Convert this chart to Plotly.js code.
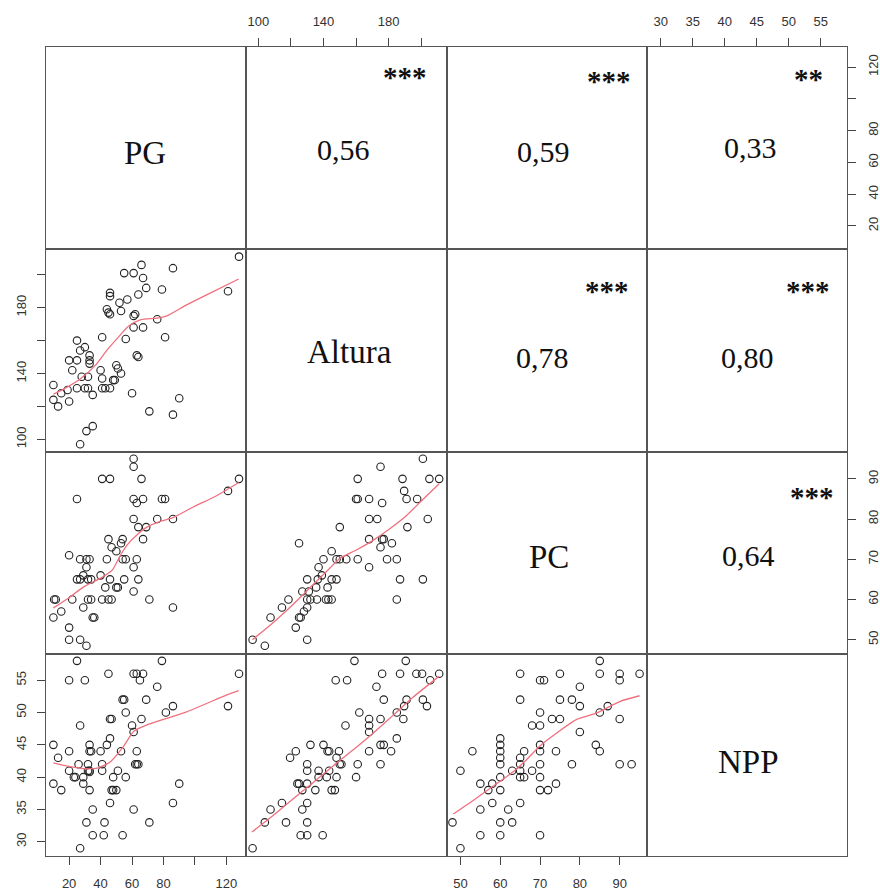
<!DOCTYPE html>
<html><head><meta charset="utf-8">
<script src="https://cdn.plot.ly/plotly-3.0.1.min.js"></script>
<style>html,body{margin:0;padding:0;background:#fff;}#chart{width:880px;height:893px;}</style>
</head><body><div id="chart"></div>
<script>
// ---------- data ----------
const varNames = ["PG", "Altura", "PC", "NPP"];
const corrText = ["0,56", "0,59", "0,33", "0,78", "0,80", "0,64"];
const corrStars = ["***", "***", "**", "***", "***", "***"];

// PG (x) vs Altura (y)
const pgAlt_PG = [128,121,66,86,55,61,67,69,79,46,46,64,57,52,44,53,45,46,62,61,76,61,67,41,56,81,25,30,27,33,33,33,20,25,22,63,64,50,51,40,53,41,28,32,48,49,10,25,30,32,41,43,46,19,15,35,60,10,13,20,90,71,86,35,31,27];
const pgAlt_Altura = [211,190,206,204,201,201,198,192,191,189,187,188,185,183,179,178,177,176,176,175,173,168,168,162,161,162,160,156,154,151,148,146,148,148,142,151,150,145,143,142,140,137,138,138,136,136,133,131,131,131,131,131,131,130,128,127,128,124,120,123,125,117,115,108,105,97];
const pgAlt_smoothX = [10,19,27.4,36.8,44.2,51.6,57.9,65.3,75.8,82.1,94.7,107.4,127.8];
const pgAlt_smoothY = [127.4,131.9,137,145.1,154.3,162.4,168.9,172.6,173.6,175,181.7,187.8,197.4];

// PG (x) vs PC (y)
const pgPC_PG = [61,61,41,46,66,128,121,25,61,67,79,81,63,61,76,86,64,69,45,54,67,53,47,50,20,27,31,33,44,54,56,63,31,61,25,27,29,32,34,40,46,55,64,43,50,51,61,10.5,11.5,22,32,34,41,45,47,71,15,29,86,10,35,36,20,20,27,31];
const pgPC_PC = [95,93,90,90,90,90,87,85,85,85,85,85,84,80,80,80,78,78,75,75,75,74,73,72,71,70,70,70,70,70,70,70,68,68,65,65,66,65,65,66,65,65,65,63,63,63,62,60,60,60,60,60,60,60,60,60,57,58,58,55.5,55.5,55.5,53,50,50,48.5];
const pgPC_smoothX = [10,19,29.5,40,47.4,52.6,56.8,63.2,69.5,77.9,86.3,98.9,113.7,127.8];
const pgPC_smoothY = [57.9,60.2,63.2,65.3,67.3,71,73.5,76.1,78,79.4,80.4,83,85.8,89.1];

// PG (x) vs NPP (y)
const pgNPP_PG = [25,79,20,30,45,61,63,67,65,76,54,55,69,56,81.5,86,121,128,46,47,66,27,60,61,46,10,20,33,44,33,34,13,40,53,63,26,32,62,63,64,32,33,20,33,41,41,51,23,24,29,48,56,10,29,15,33,47,48,50,90,46,86,35,61,31,42.5,71,35,42,54,27];
const pgNPP_NPP = [58,58,55,55,56,56,56,56,55,54,52,52,52,50,50,51,51,56,49,49,49,48,48,47,46,45,44,45,45,44,44,43,44,44,44,42,42,42,42,42,41,41,41,40.8,42,41,41,40,40,40,40,40,39,39,38,38,38,38,38,39,36,36,35,35,33,33,33,31,31,31,29];
const pgNPP_smoothX = [10,19,29.5,37.9,46.3,54.7,61.1,69.5,82.1,94.7,107.4,120,127.8];
const pgNPP_smoothY = [42.2,41.7,41.3,41.4,42.4,44.8,47.1,48.1,49.1,50.1,51.4,52.7,53.4];

// Altura (x) vs PC (y)
const altPC_Altura = [201,175,161,188.5,205,211,189.5,160,161,168,191,197.5,176,168,173,204,150,191.5,125,168,176,177,182,175,145,140,148,150,154,161,179,185,168,137,139,136.5,145,148,130,187,201,135.5,142.5,127,131,118.5,130,132,136,141.5,143,145,185,114.5,130,128,125,126,107.5,123,96.5,130,104];
const altPC_PC = [95,93,90,90,90,90,87,85,85,85,85,85,84,80,80,80,78,78,74,75,75,75,74,73,72,70,70,70,70,70,70,70,68,68,66,65,65,65,65,65,65,63,63,62,62,60,60,60,60,60,60,60,60,58,58,57,55.5,55.5,55.5,53,50,50,48.5];
const altPC_smoothX = [96.4,108.7,121.1,133.4,143.7,149.9,160.2,170.4,180.7,191,201.3,210.9];
const altPC_smoothY = [50,54.1,58.7,63.6,67.7,70.2,72.3,74.7,77.6,80.9,85,88.7];

// Altura (x) vs NPP (y)
const altNPP_Altura = [159,190.5,147.5,154.5,176,187,197,200.5,211,205.5,172.5,177,191,201,203.5,189.5,185,162,168,175,189,168,168,153.5,185,132,140,175,177,181.5,168,123,119.5,142.5,143.5,149.5,148,130,150,151,161,175,130,137,143.5,124,125,130,137,142,148,160,127,135,145,147,130,127,114.5,107.5,104,117,130,126,130,139.5,96.5];
const altNPP_NPP = [58,58,55,55,56,56,56,56,56,55,54,52,52,52,51,51,50,50,49,49,49,48,47,48,46,45,45,45,45,44,44,44,43,44,44,44,43,42,42,42,42,42,41,41,41,39,39,39,40,40,40,40,38,38,38,38,36,35,36,35,33,33,33,31,31,31,29];
const altNPP_smoothX = [96,108.7,121.1,133.4,145.7,158.1,170.4,182.8,195.1,210.9];
const altNPP_smoothY = [31.5,34,36.6,39.1,41.7,44.2,46.8,49.6,52.4,55.6];

// PC (x) vs NPP (y)
const pcNPP_PC = [85,65,75,85,90,90,95,70,71,80,65,75,78,80,87,85,70,73,75,90,68,70,80,60,60,60,60,60,53,66,70,70,74,84,85,65,65,70,78,90,93,50,63,65,66,65,68,60,70,55,58,74,57,60,70,72,58,65,55,62,48,60,63,55,60,70,50];
const pcNPP_NPP = [58,56,56,56,56,55,56,55,55,54,52,52,52,51,51,50,50,49,49,49,48,48,47,46,45,44,43,42,44,44,45,44,44,45,44,43,42,42,42,42,42,41,41,41,40,40,41,40,40,39,39,39,38,38,38,38,36,36,35,35,33,33,33,31,31,31,29];
const pcNPP_smoothX = [48.2,53.2,58.2,63.2,66.6,69.9,74.1,79.1,84.1,90,95];
const pcNPP_smoothY = [34.3,36.4,38.6,40.8,42.7,44.8,46.8,48.9,49.9,51.7,52.6];

// tick labels
const pgTicks = [20,40,60,80,100,120];
const pgTickText = ["20","40","60","80","","120"];
const altTicks = [100,120,140,160,180,200];
const altTickText = ["100","","140","","180",""];
const pcTicks = [50,60,70,80,90];
const pcTickText = ["50","60","70","80","90"];
const nppTicks = [30,35,40,45,50,55];
const nppTickText = ["30","35","40","45","50","55"];

// ---------- layout ----------
const Wd = 880, Ht = 893;
const L = 46, T = 47, W = 801, H = 809;
const ranges = [[5.3,132.6],[92.6,215.5],[46.5,96.8],[27.8,59.1]];
const ticksOf = [[pgTicks,pgTickText],[altTicks,altTickText],[pcTicks,pcTickText],[nppTicks,nppTickText]];

const lower = {
  "1,0": [pgAlt_PG, pgAlt_Altura, pgAlt_smoothX, pgAlt_smoothY],
  "2,0": [pgPC_PG, pgPC_PC, pgPC_smoothX, pgPC_smoothY],
  "3,0": [pgNPP_PG, pgNPP_NPP, pgNPP_smoothX, pgNPP_smoothY],
  "2,1": [altPC_Altura, altPC_PC, altPC_smoothX, altPC_smoothY],
  "3,1": [altNPP_Altura, altNPP_NPP, altNPP_smoothX, altNPP_smoothY],
  "3,2": [pcNPP_PC, pcNPP_NPP, pcNPP_smoothX, pcNPP_smoothY]
};
const outerX = {"3,0":"bottom","3,2":"bottom","0,1":"top","0,3":"top"};
const outerY = {"1,0":"left","3,0":"left","0,3":"right","2,3":"right"};

const layout = {
  width: Wd, height: Ht,
  margin: {l: L, r: Wd - L - W, t: T, b: Ht - T - H, pad: 0},
  showlegend: false,
  paper_bgcolor: "#fff", plot_bgcolor: "#fff",
  annotations: [], shapes: []
};
const traces = [];
const tickFont = {family: "Liberation Sans, Arial, sans-serif", size: 13, color: "#333"};

for (let i = 0; i < 4; i++) {
  for (let j = 0; j < 4; j++) {
    const k = i * 4 + j + 1;
    const xn = k === 1 ? "x" : "x" + k, yn = k === 1 ? "y" : "y" + k;
    const xa = {domain: [j/4, (j+1)/4], range: ranges[j], anchor: yn, showgrid: false, zeroline: false,
      showline: true, mirror: true, linecolor: "#555", linewidth: 1, ticks: "", showticklabels: false, fixedrange: true};
    const ya = {domain: [1-(i+1)/4, 1-i/4], range: ranges[i], anchor: xn, showgrid: false, zeroline: false,
      showline: true, mirror: true, linecolor: "#555", linewidth: 1, ticks: "", showticklabels: false, fixedrange: true};
    const key = i + "," + j;
    if (outerX[key]) {
      Object.assign(xa, {side: outerX[key], ticks: "outside", ticklen: 8, tickwidth: 1, tickcolor: "#444",
        tickmode: "array", tickvals: ticksOf[j][0], ticktext: ticksOf[j][1], showticklabels: true,
        tickangle: 0, tickfont: tickFont, ticklabelstandoff: 7});
    }
    if (outerY[key]) {
      Object.assign(ya, {side: outerY[key], ticks: "outside", ticklen: 8, tickwidth: 1, tickcolor: "#444",
        tickmode: "array", tickvals: ticksOf[i][0], ticktext: ticksOf[i][1], showticklabels: true,
        tickangle: -90, tickfont: tickFont, ticklabelstandoff: 6});
    }
    layout[k === 1 ? "xaxis" : "xaxis" + k] = xa;
    layout[k === 1 ? "yaxis" : "yaxis" + k] = ya;

    if (lower[key]) {
      const d = lower[key];
      traces.push({type: "scatter", mode: "markers", x: d[0], y: d[1], xaxis: xn, yaxis: yn,
        marker: {symbol: "circle-open", size: 7.5, color: "#222", line: {width: 1.1, color: "#222"}},
        hoverinfo: "skip", cliponaxis: true});
      traces.push({type: "scatter", mode: "lines", x: d[2], y: d[3], xaxis: xn, yaxis: yn,
        line: {color: "#f0707e", width: 1.3, shape: "spline", smoothing: 0.6}, hoverinfo: "skip"});
    } else {
      traces.push({type: "scatter", mode: "markers", x: [null], y: [null], xaxis: xn, yaxis: yn, hoverinfo: "skip"});
    }
  }
}

function P(px, py) { return {x: (px - L) / W, y: 1 - (py - T) / H}; }
function addText(txt, px, py, size) {
  const p = P(px, py);
  layout.annotations.push({text: txt, x: p.x, y: p.y, xref: "paper", yref: "paper", showarrow: false,
    xanchor: "center", yanchor: "middle",
    font: {family: "Liberation Serif, Times New Roman, serif", size: size, color: "#111"}});
}
// diagonal variable names
const diagPos = [[145,153],[349,352],[549,557],[748,762]];
varNames.forEach((v, n) => addText(v, diagPos[n][0], diagPos[n][1], 33));
// correlations (upper panels)
const corrPos = [[343,149],[543,151],[750,147],[542,357],[747,357],[748,555]];
corrText.forEach((c, n) => addText(c, corrPos[n][0], corrPos[n][1], 30));
const starPos = [[405,71],[609,75],[808,73],[607,285],[808,285],[812,491]];
corrStars.forEach((s, n) => addText("<b>" + s + "</b>", starPos[n][0], starPos[n][1] + 6, 29));

Plotly.newPlot("chart", traces, layout, {displayModeBar: false, staticPlot: true});
</script></body></html>
